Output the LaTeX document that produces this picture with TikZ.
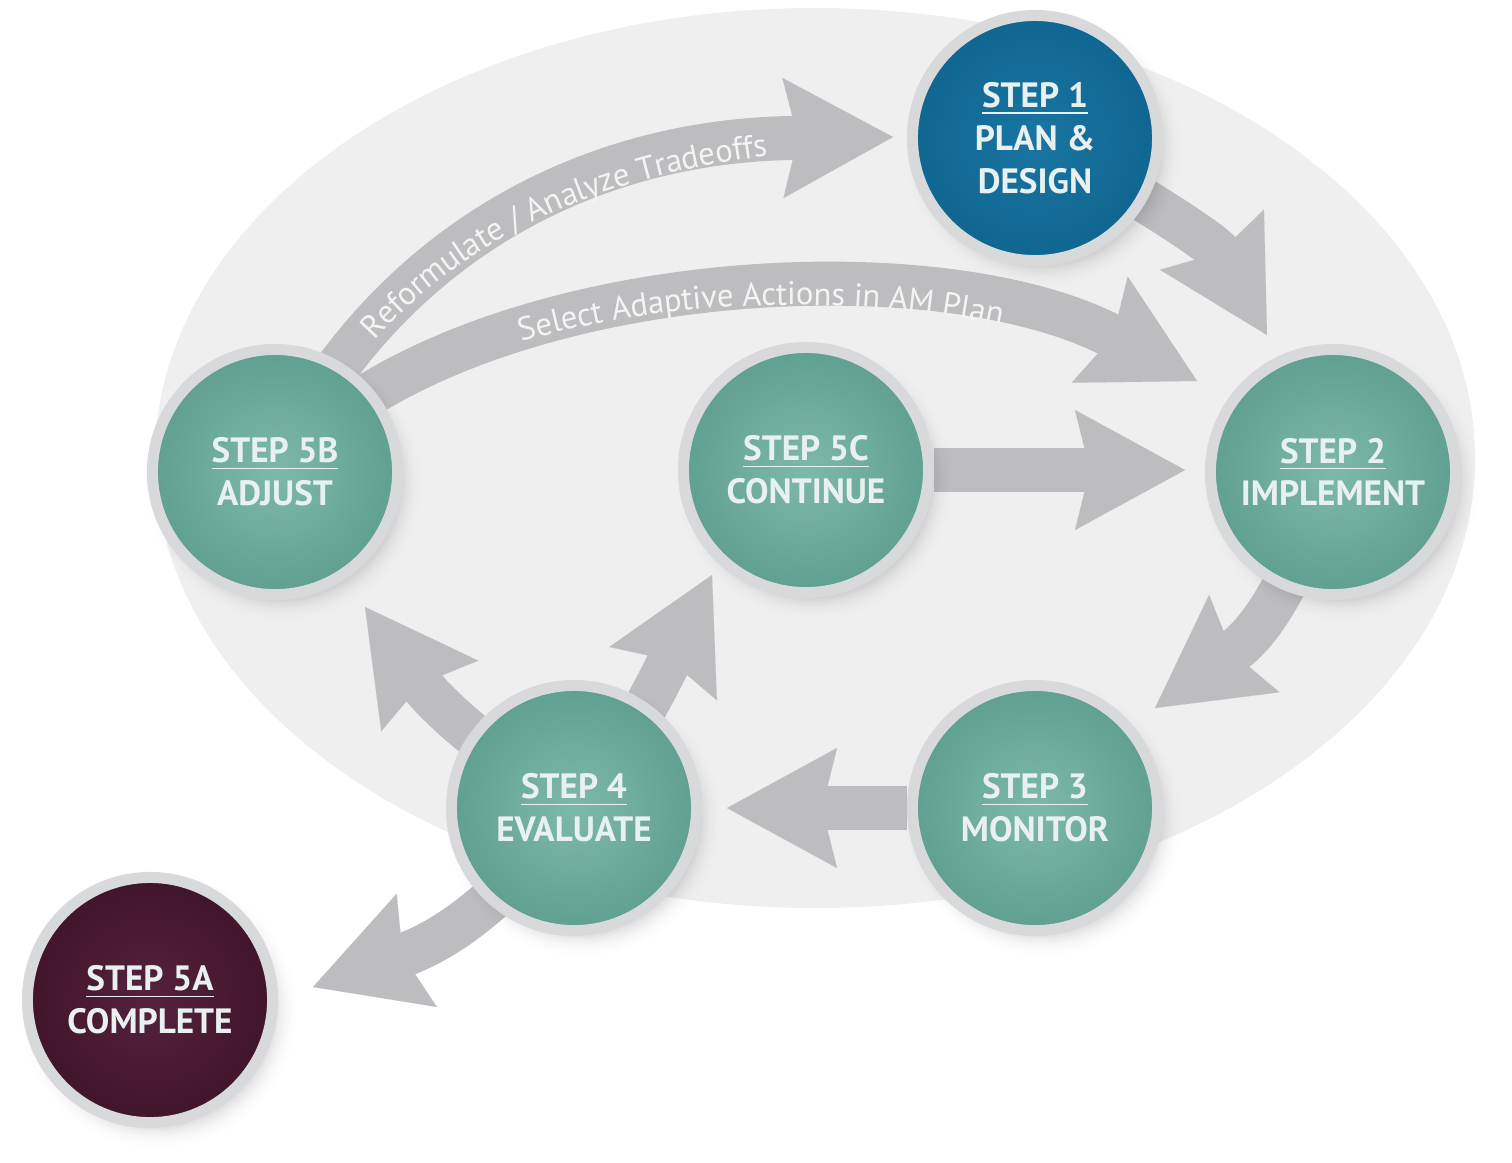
\documentclass[tikz,border=0pt]{standalone}
\usepackage{fontspec}
\newfontfamily\lbl{PT Sans}
\usetikzlibrary{arrows.meta,decorations.text,shadows,calc}
\pgfdeclarelayer{bg}
\pgfdeclarelayer{arrows}
\pgfsetlayers{bg,arrows,main}
\definecolor{ellc}{HTML}{EFEFEF}
\definecolor{arrowc}{HTML}{BDBDBF}
\definecolor{ringc}{HTML}{D8D9DB}
\definecolor{tealin}{HTML}{7DB9AB}
\definecolor{tealout}{HTML}{60A090}
\definecolor{bluein}{HTML}{1A75A2}
\definecolor{blueout}{HTML}{0F6690}
\definecolor{marin}{HTML}{56213D}
\definecolor{marout}{HTML}{40152A}
\definecolor{txtc}{HTML}{E8F1EF}
\definecolor{labc}{HTML}{F4F4F4}
\begin{document}
\begin{tikzpicture}[x=0.01cm,y=-0.01cm,
  stepc/.style={circle, minimum size=2.45cm, inner sep=0pt, line width=0.11cm, draw=ringc,
    align=center, text=txtc, font=\lbl\bfseries\fontsize{10}{12.2}\selectfont,
    circular drop shadow={shadow xshift=0.07cm, shadow yshift=-0.09cm, shadow scale=1.13, fill=black, opacity=0.035},
    circular drop shadow={shadow xshift=0.07cm, shadow yshift=-0.09cm, shadow scale=1.09, fill=black, opacity=0.04},
    circular drop shadow={shadow xshift=0.06cm, shadow yshift=-0.08cm, shadow scale=1.05, fill=black, opacity=0.05},
    circular drop shadow={shadow xshift=0.05cm, shadow yshift=-0.06cm, shadow scale=1.02, fill=black, opacity=0.06}},
  tealc/.style={stepc, inner color=tealin, outer color=tealout},
  bluec/.style={stepc, inner color=bluein, outer color=blueout},
  marc/.style={stepc, inner color=marin, outer color=marout},
  arr/.style={draw=arrowc, line width=0.44cm,
    -{Stealth[length=1.1cm, width=1.2cm, inset=0.15cm, line width=0.01pt]}},
  lab/.style={decorate, decoration={text along path, raise=-0.11cm, #1}}
]
\useasboundingbox (0,0) rectangle (1512,1162);
\begin{pgfonlayer}{bg}
  \fill[white] (0,0) rectangle (1512,1162);
  \fill[ellc] (815,458) ellipse [x radius=660, y radius=450];
\end{pgfonlayer}

% step circles
\node[bluec] (s1) at (1035,138) {\underline{STEP 1}\\PLAN \&\\DESIGN};
\node[tealc] (s2) at (1333,472) {\underline{STEP 2}\\IMPLEMENT};
\node[tealc] (s3) at (1035,808) {\underline{STEP 3}\\MONITOR};
\node[tealc] (s4) at (574,808) {\underline{STEP 4}\\EVALUATE};
\node[tealc] (s5b) at (275,472) {\underline{STEP 5B}\\ADJUST};
\node[tealc] (s5c) at (806,470) {\underline{STEP 5C}\\CONTINUE};
\node[marc] (s5a) at (150,1000) {\underline{STEP 5A}\\COMPLETE};

% arrow tip points
\coordinate (t12) at (1267,335);
\coordinate (t51) at (893,137);
\coordinate (t52) at (1197,381);
\coordinate (tc2) at (1185,470);
\coordinate (t23) at (1155,708);
\coordinate (t34) at (727,808);
\coordinate (t4b) at (365,607);
\coordinate (t4c) at (712,575);
\coordinate (t4a) at (313,987);

\begin{pgfonlayer}{arrows}
  \draw[arr] (s1.center) .. controls (1150,200) and (1215,245) .. (t12);
  \draw[arr] (s5b.center) .. controls (370,270) and (560,140) .. (t51);
  \draw[arr] (s5b.center) .. controls (450,270) and (930,240) .. (t52);
  \draw[arr] (s5c) -- (tc2);
  \draw[arr] (s2.center) .. controls (1300,560) and (1270,625) .. (t23);
  \draw[arr] (s3) -- (t34);
  \draw[arr] (s4.center) .. controls (500,760) and (440,710) .. (t4b);
  \draw[arr] (s4.center) .. controls (620,760) and (655,690) .. (t4c);
  \draw[arr] (s4.center) .. controls (520,880) and (460,935) .. (t4a);
  % labels along the two long arrows
  \path[lab={text={|\lbl\fontsize{9.3}{11}\selectfont\color{labc}|Reformulate / Analyze Tradeoffs},
      text align={center, left indent=1.5cm, right indent=1.1cm}}]
    (s5b.center) .. controls (370,270) and (560,140) .. (t51);
  \path[lab={text={|\lbl\fontsize{9.3}{11}\selectfont\color{labc}|Select Adaptive Actions in AM Plan},
      text align={center, left indent=2.75cm, right indent=1.95cm}}]
    (s5b.center) .. controls (450,270) and (930,240) .. (t52);
\end{pgfonlayer}
\end{tikzpicture}
\end{document}
